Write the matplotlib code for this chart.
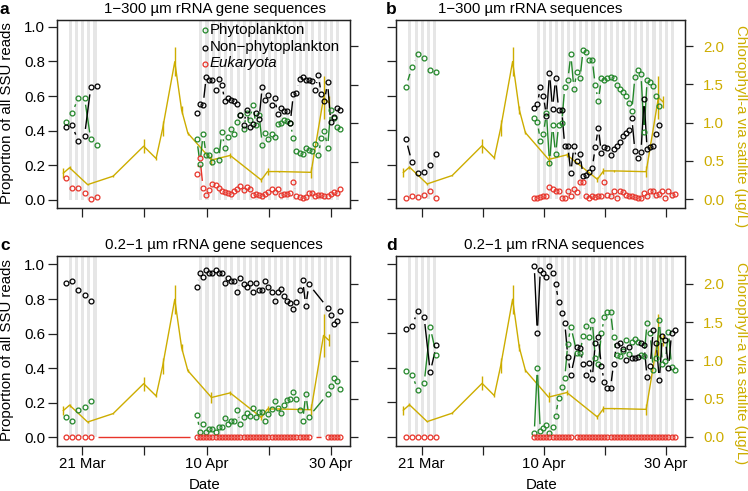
import numpy as np
import matplotlib
matplotlib.use('Agg')
import matplotlib.pyplot as plt

plt.rcParams['font.family'] = ['Liberation Sans', 'DejaVu Sans']
nan = np.nan

# ---------------- data (x in days since 1 Mar 2014) ----------------
LEFT_DAYS = [17.4, 18.4, 19.4, 20.4, 21.4, 22.4]
RIGHT_DAYS = [38.45, 38.95, 39.45, 39.95, 40.45, 40.95, 41.45, 41.95, 42.45, 42.95,
              43.45, 43.95, 44.45, 44.95, 45.45, 45.95, 46.45, 46.95, 47.45, 47.95,
              48.45, 48.95, 49.45, 49.95, 50.45, 50.95, 51.45, 51.95, 52.45, 52.95,
              53.45, 53.95, 54.45, 54.95, 55.45, 55.95, 56.45, 56.95, 57.45, 57.95,
              58.45, 58.95, 59.45, 59.95, 60.45, 60.95, 61.45]
NIGHTS = [18, 19, 20, 21, 22,
          39, 40, 41, 42, 43, 44, 45, 46, 47, 48, 49, 50, 51, 52, 53, 54, 55, 56,
          57, 58, 59, 60, 61]

CHL_DAYS = [17.0, 18.0, 20.9, 25.0, 29.9, 31.9, 32.95, 34.9, 36.0, 37.0, 40.8,
            43.8, 48.8, 49.8, 51.6, 56.8, 58.8, 59.6]
CHL_VALUES = [0.35, 0.42, 0.20, 0.31, 0.70, 0.54, 0.93, 1.80, 1.17, 0.87, 0.52,
              0.58, 0.26, 0.37, 0.37, 0.36, 1.33, 1.27]
CHL_ERR = [0.06, 0.02, 0.01, 0.01, 0.09, 0.02, 0.10, 0.19, 0.05, 0.02, 0.07,
           0.03, 0.03, 0.04, 0.01, 0.07, 0.28, 0.08]

TICK_DAYS = [20, 30, 40, 50, 60]
TICK_LABELS = ['21 Mar', '', '10 Apr', '', '30 Apr']
LEFT_TICKS = [0.0, 0.2, 0.4, 0.6, 0.8, 1.0]
RIGHT_TICKS = [0.0, 0.5, 1.0, 1.5, 2.0]

# panel a : 1-300 um rRNA gene
A_PHY_L = [0.45, 0.50, 0.59, 0.59, 0.35, 0.32]
A_NON_L = [0.42, 0.43, 0.34, 0.37, 0.65, 0.66]
A_EUK_L = [0.125, 0.07, 0.07, 0.04, 0.005, 0.015]
A_NON_R = [0.50, 0.555, 0.55, 0.71, 0.69, 0.69, 0.635, 0.70, 0.665, 0.57,
           0.59, 0.58, 0.57, 0.555, 0.49, 0.43, 0.52, 0.42, 0.44, 0.50,
           0.47, 0.655, 0.58, 0.605, 0.55, 0.59, 0.495, 0.53, 0.515, 0.515,
           0.445, 0.61, 0.62, 0.70, 0.71, 0.69, 0.69, 0.685, 0.635, 0.72,
           0.61, 0.57, 0.68, 0.45, 0.48, 0.53, 0.52]
A_PHY_R = [0.35, 0.21, 0.38, 0.26, 0.26, 0.22, 0.29, 0.23, 0.39, 0.30,
           0.365, 0.41, 0.38, 0.45, 0.49, 0.41, 0.50, 0.46, 0.55, 0.43,
           0.49, 0.32, 0.385, 0.35, 0.38, 0.365, 0.44, 0.445, 0.46, 0.455,
           0.445, 0.355, 0.28, 0.27, 0.265, 0.30, 0.29, 0.28, 0.325, 0.26,
           0.355, 0.40, 0.30, 0.52, 0.475, 0.42, 0.41]
A_EUK_R = [0.15, 0.24, 0.07, 0.03, 0.06, 0.095, 0.085, 0.07, 0.05, 0.045,
           0.04, 0.035, 0.05, 0.065, 0.08, 0.06, 0.075, 0.065, 0.03, 0.035,
           0.03, 0.025, 0.035, 0.045, 0.065, 0.045, 0.065, 0.03, 0.035, 0.035,
           0.04, 0.105, 0.025, 0.02, 0.01, 0.02, 0.04, 0.04, 0.025, 0.03,
           0.03, 0.025, 0.025, 0.035, 0.045, 0.04, 0.065]

# panel b : 1-300 um rRNA
B_PHY_L = [0.65, 0.765, 0.84, 0.82, 0.75, 0.735]
B_NON_L = [0.35, 0.215, 0.15, 0.155, 0.20, 0.265]
B_EUK_L = [0.005, 0.02, 0.015, 0.025, 0.05, 0.005]
B_NON_R = [0.53, 0.55, 0.65, 0.60, 0.48, 0.73, 0.525, 0.70, 0.52, 0.515,
           0.31, 0.31, 0.15, 0.31, 0.22, 0.26, 0.135, 0.14, 0.16, 0.18,
           0.30, 0.415, 0.27, 0.30, 0.295, 0.255, 0.29, 0.31, 0.33, 0.365,
           0.385, 0.40, 0.47, 0.28, 0.24, 0.275, 0.58, 0.29, 0.30, 0.31,
           0.38, 0.43, nan, nan, nan, nan, nan]
B_PHY_R = [0.47, 0.45, 0.34, 0.38, 0.50, 0.21, 0.43, 0.26, 0.43, 0.44,
           0.65, 0.69, 0.84, 0.64, 0.74, 0.70, 0.865, 0.855, 0.81, 0.81,
           0.66, 0.57, 0.70, 0.69, 0.70, 0.71, 0.70, 0.66, 0.64, 0.62,
           0.60, 0.56, 0.51, 0.71, 0.75, 0.725, 0.39, 0.69, 0.68, 0.655,
           0.60, 0.54, nan, nan, nan, nan, nan]
B_EUK_R = [0.005, 0.005, 0.01, 0.02, 0.02, 0.07, 0.06, 0.05, 0.045, 0.005,
           0.005, 0.05, 0.02, 0.06, 0.04, 0.10, 0.10, 0.02, 0.005, 0.02,
           0.01, 0.02, 0.02, 0.10, 0.025, 0.02, 0.045, 0.005, 0.045, 0.04,
           0.025, 0.02, 0.02, 0.01, 0.005, 0.005, 0.035, 0.02, 0.045, 0.045,
           0.025, 0.03, 0.045, 0.005, 0.05, 0.025, 0.03]

# panel c : 0.2-1 um rRNA gene
C_PHY_L = [0.115, 0.096, 0.158, 0.177, 0.21, nan]
C_NON_L = [0.89, 0.905, 0.85, 0.825, 0.79, nan]
C_EUK_L = [0.0, 0.0, 0.0, 0.0, 0.0, nan]
C_NON_R = [0.87, 0.95, 0.93, 0.97, 0.95, 0.95, 0.97, 0.95, 0.95, 0.895,
           0.92, 0.905, 0.905, 0.84, 0.92, 0.886, 0.87, 0.89, 0.84, 0.89,
           0.85, 0.85, 0.905, 0.867, 0.84, 0.79, 0.84, 0.86, 0.817, 0.79,
           0.778, 0.74, 0.784, 0.85, 0.91, 0.76, 0.885, nan, nan, nan,
           nan, nan, 0.75, 0.71, 0.655, 0.675, 0.73]
C_PHY_R = [0.13, 0.033, 0.075, 0.033, 0.046, 0.046, 0.033, 0.06, 0.058, 0.11,
           0.08, 0.096, 0.096, 0.158, 0.075, 0.115, 0.139, 0.123, 0.168, 0.12,
           0.148, 0.148, 0.096, 0.133, 0.162, 0.212, 0.168, 0.143, 0.187, 0.216,
           0.222, 0.26, 0.22, 0.158, 0.096, 0.25, 0.12, nan, nan, nan,
           nan, nan, 0.25, 0.297, 0.345, 0.326, 0.277]
C_EUK_R = [0.0] * 37 + [nan] * 5 + [0.0] * 5

# panel d : 0.2-1 um rRNA
D_PHY_L = [0.38, 0.36, 0.27, 0.31, 0.635, 0.475]
D_NON_L = [0.625, 0.645, 0.73, 0.695, 0.375, 0.53]
D_EUK_L = [0.0, 0.0, 0.0, 0.0, 0.0, 0.0]
D_NON_R = [0.99, 0.605, 0.97, 0.95, 0.93, 0.99, 0.95, 0.886, 0.784, 0.717,
           0.663, 0.466, 0.36, nan, 0.524, 0.518, 0.42, 0.36, 0.43, 0.335,
           0.543, 0.578, 0.41, 0.316, 0.283, 0.283, 0.424, 0.534, 0.547, 0.51,
           0.447, 0.52, 0.459, 0.457, 0.466, 0.543, 0.53, 0.345, 0.412, 0.62,
           0.543, 0.33, 0.585, 0.563, 0.40, 0.60, 0.617]
D_PHY_R = [0.02, 0.40, 0.033, 0.05, 0.07, 0.02, 0.06, 0.12, 0.225, 0.29,
           0.34, 0.54, 0.64, nan, 0.485, 0.485, 0.585, 0.643, 0.578, 0.678,
           0.46, 0.42, 0.60, 0.694, 0.726, 0.726, 0.58, 0.476, 0.47, 0.50,
           0.563, 0.48, 0.553, 0.566, 0.553, 0.476, 0.47, 0.663, 0.60, 0.39,
           0.46, 0.678, 0.42, 0.44, 0.611, 0.408, 0.39]
D_EUK_R = [0.0] * 13 + [nan] + [0.0] * 33

# ---------------- style ----------------
GREEN = '#23872A'
RED = '#E8342A'
BLACK = '#000000'
GOLD = '#CDAD00'
BAND = '#E6E6E6'
W, H = 748, 491
FS = 10.8
MS = 3.5

fig = plt.figure(figsize=(W / 100, H / 100), dpi=100)


def fpos(x, y):
    return x / W, 1 - y / H


def b_lines(ax, xs, ys, color, gap=7.0):
    """R type='b' style: segments between points, leaving a gap round each point."""
    xs = np.asarray(xs, float)
    ys = np.asarray(ys, float)
    ok = ~np.isnan(ys)
    pts = ax.transData.transform(np.column_stack([xs[ok], ys[ok]]))
    inv = ax.transData.inverted()
    for p, q in zip(pts[:-1], pts[1:]):
        d = q - p
        L = np.hypot(d[0], d[1])
        if L > 2 * gap:
            u = d / L
            s = inv.transform(p + u * gap)
            e = inv.transform(q - u * gap)
            ax.plot([s[0], e[0]], [s[1], e[1]], color=color, lw=1.0,
                    solid_capstyle='butt', zorder=3)


panels = [
    dict(box=(57, 20, 350, 208.3), xlim=(15.98, 63.05), ylim=(-0.048, 1.039),
         title='1\u2212300 \u00b5m rRNA gene sequences', tx=215, ty=9.5,
         letter='a', lx=0, ly=9.5, leftlab=True, rightlab=False, bottomlab=False,
         series=[(A_PHY_L, A_PHY_R, GREEN), (A_NON_L, A_NON_R, BLACK),
                 (A_EUK_L, A_EUK_R, RED)], bridge=False),
    dict(box=(396, 20, 685, 207.5), xlim=(15.79, 63.16), ylim=(-0.048, 1.039),
         title='1\u2212300 \u00b5m rRNA sequences', tx=530, ty=9.5,
         letter='b', lx=386, ly=9.5, leftlab=False, rightlab=True, bottomlab=False,
         series=[(B_PHY_L, B_PHY_R, GREEN), (B_NON_L, B_NON_R, BLACK),
                 (B_EUK_L, B_EUK_R, RED)], bridge=False),
    dict(box=(57, 256, 350, 446), xlim=(15.98, 63.05), ylim=(-0.050, 1.049),
         title='0.2\u22121 \u00b5m rRNA gene sequences', tx=213.5, ty=245,
         letter='c', lx=0, ly=245, leftlab=True, rightlab=False, bottomlab=True,
         series=[(C_PHY_L, C_PHY_R, GREEN), (C_NON_L, C_NON_R, BLACK),
                 (C_EUK_L, C_EUK_R, RED)], bridge=True),
    dict(box=(396, 256, 685, 445.5), xlim=(15.79, 63.16), ylim=(-0.050, 1.049),
         title='0.2\u22121 \u00b5m rRNA sequences', tx=554, ty=245,
         letter='d', lx=386, ly=245, leftlab=False, rightlab=True, bottomlab=True,
         series=[(D_PHY_L, D_PHY_R, GREEN), (D_NON_L, D_NON_R, BLACK),
                 (D_EUK_L, D_EUK_R, RED)], bridge=False),
]

CHL_FACTOR = 2.255

for p in panels:
    x0, y0, x1, y1 = p['box']
    rect = [x0 / W, 1 - y1 / H, (x1 - x0) / W, (y1 - y0) / H]
    ax2 = fig.add_axes(rect)           # chlorophyll + x axis (drawn underneath)
    ax = ax2.twinx()                   # proportions (on top)
    ax.set_position(rect)
    ax2.set_position(rect)
    ax.yaxis.tick_left()
    ax.yaxis.set_label_position('left')
    ax2.yaxis.tick_right()
    ax2.yaxis.set_label_position('right')

    ax.set_xlim(*p['xlim'])
    ax2.set_xlim(*p['xlim'])
    ax.set_ylim(*p['ylim'])
    ax2.set_ylim(p['ylim'][0] * CHL_FACTOR, p['ylim'][1] * CHL_FACTOR)

    # night bands
    yb = -p['ylim'][0] / (p['ylim'][1] - p['ylim'][0])
    for n in NIGHTS:
        ax2.axvspan(n - 0.17, n + 0.33, ymin=yb, ymax=1, color=BAND, lw=0, zorder=0)

    # chlorophyll
    ax2.plot(CHL_DAYS, CHL_VALUES, color=GOLD, lw=1.0, zorder=2)
    ax2.errorbar(CHL_DAYS, CHL_VALUES, yerr=CHL_ERR, fmt='none', ecolor=GOLD,
                 elinewidth=1.0, capsize=0, zorder=2)

    # proportions
    for left, right, col in p['series']:
        ax.plot(LEFT_DAYS, left, 'o', mfc='none', mec=col, ms=MS, mew=0.9, zorder=4)
        ax.plot(RIGHT_DAYS, right, 'o', mfc='none', mec=col, ms=MS, mew=0.9, zorder=4)
        if p['bridge'] and col == RED:
            b_lines(ax, LEFT_DAYS + RIGHT_DAYS, list(left) + list(right), col)
        else:
            b_lines(ax, LEFT_DAYS, left, col)
            b_lines(ax, RIGHT_DAYS, right, col)

    # axes styling
    for a_ in (ax, ax2):
        for s in a_.spines.values():
            s.set_linewidth(0.9)
            s.set_color('#222222')
    ax.tick_params(axis='x', bottom=False, labelbottom=False, top=False)
    ax2.set_xticks(TICK_DAYS)
    if p['bottomlab']:
        ax2.set_xticklabels(TICK_LABELS)
    else:
        ax2.set_xticklabels([''] * len(TICK_DAYS))
    ax2.tick_params(axis='x', direction='out', length=6.5, width=0.9,
                    labelsize=FS, pad=1.5, colors='#222222', labelcolor='black')
    ax.set_yticks(LEFT_TICKS)
    if p['leftlab']:
        ax.set_yticklabels(['%.1f' % v for v in LEFT_TICKS])
    else:
        ax.set_yticklabels([''] * len(LEFT_TICKS))
    ax.tick_params(axis='y', direction='out', length=6.5, width=0.9,
                   labelsize=FS, pad=2.0, colors='#222222', labelcolor='black')
    ax2.set_yticks(RIGHT_TICKS)
    if p['rightlab']:
        ax2.set_yticklabels(['%.1f' % v for v in RIGHT_TICKS])
    else:
        ax2.set_yticklabels([''] * len(RIGHT_TICKS))
    ax2.tick_params(axis='y', direction='out', length=6, width=0.9,
                    labelsize=FS, pad=7, colors='#222222', labelcolor=GOLD)

    fig.text(*fpos(p['tx'], p['ty']), p['title'], ha='center', va='center', fontsize=FS)
    fig.text(*fpos(p['lx'], p['ly']), p['letter'], ha='left', va='center',
             fontsize=12.5, fontweight='bold')

    if p['leftlab']:
        fig.text(*fpos(7, (y0 + y1) / 2 - 1), 'Proportion of all SSU reads',
                 rotation=90, ha='center', va='center', fontsize=FS)
    if p['rightlab']:
        fig.text(*fpos(741.5, (y0 + y1) / 2 + 12), 'Chlorophyll-a via satilite (\u00b5g/L)',
                 rotation=270, ha='center', va='center', fontsize=FS, color=GOLD)
    if p['bottomlab']:
        fig.text(*fpos((x0 + x1) / 2 + 1, 485), 'Date', ha='center', va='center',
                 fontsize=FS)

    if p['letter'] == 'a':
        labels = ['Phytoplankton', 'Non\u2212phytoplankton', 'Eukaryota']
        cols = [GREEN, BLACK, RED]
        ys = [30, 47.5, 63.5]
        for lab, c, yy in zip(labels, cols, ys):
            fx, fy = fpos(205, yy)
            fig.lines.append(plt.Line2D([fx], [fy], transform=fig.transFigure,
                                        marker='o', mfc='none', mec=c, ms=MS, mew=0.9,
                                        ls='none'))
            fx, fy = fpos(209.5, yy)
            fig.text(fx, fy, lab, ha='left', va='center', fontsize=FS,
                     style='italic' if lab == 'Eukaryota' else 'normal')

fig.savefig('out.png', dpi=100)
